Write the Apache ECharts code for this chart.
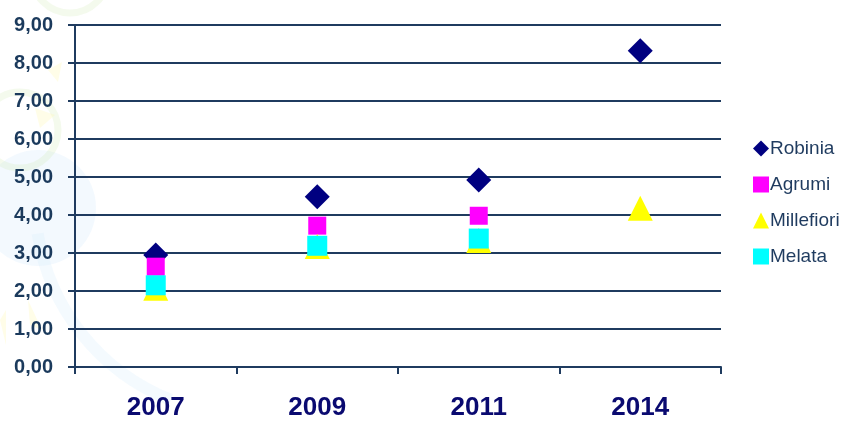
<!DOCTYPE html>
<html>
<head>
<meta charset="utf-8">
<script src="https://cdn.jsdelivr.net/npm/echarts@6/dist/echarts.min.js"></script>
<style>
html,body{margin:0;padding:0;background:#fff;}
#c{width:850px;height:421px;}
</style>
</head>
<body>
<div id="c"></div>
<script>
var categories = ['2007', '2009', '2011', '2014'];
var robinia = [2.95, 4.48, 4.92, 8.32];
var agrumi = [2.64, 3.72, 3.98, null];
var millefiori = [2.07, 3.17, 3.33, 4.18];
var melata = [2.15, 3.19, 3.38, null];
var yTicks = [0, 1, 2, 3, 4, 5, 6, 7, 8, 9];

var chart = echarts.init(document.getElementById('c'));
var axisColor = '#1f3b5f';
var font = 'Liberation Sans, Arial, sans-serif';
chart.setOption({
  backgroundColor: '#ffffff',
  animation: false,
  graphic: [
    {type: 'circle', z: -10, silent: true, shape: {cx: 38, cy: 208, r: 58}, style: {fill: 'rgba(215,236,252,0.3)'}},
    {type: 'circle', z: -10, silent: true, shape: {cx: 20, cy: 130, r: 38}, style: {fill: 'none', stroke: 'rgba(205,232,175,0.22)', lineWidth: 7}},
    {type: 'circle', z: -10, silent: true, shape: {cx: 70, cy: -25, r: 38}, style: {fill: 'none', stroke: 'rgba(205,232,175,0.22)', lineWidth: 7}},
    {type: 'arc', z: -10, silent: true, shape: {cx: 250, cy: 200, r: 215, startAngle: Math.PI * 0.62, endAngle: Math.PI * 0.95}, style: {fill: 'none', stroke: 'rgba(220,238,252,0.3)', lineWidth: 12}},
    {type: 'polygon', z: -10, silent: true, shape: {points: [[48, 70], [62, 62], [58, 82]]}, style: {fill: 'rgba(255,250,180,0.3)'}},
    {type: 'polygon', z: -10, silent: true, shape: {points: [[35, 108], [55, 115], [40, 128]]}, style: {fill: 'rgba(255,250,180,0.3)'}},
    {type: 'polygon', z: -10, silent: true, shape: {points: [[28, 300], [42, 330], [30, 325]]}, style: {fill: 'rgba(255,250,180,0.3)'}},
    {type: 'polygon', z: -10, silent: true, shape: {points: [[0, 320], [6, 310], [6, 345]]}, style: {fill: 'rgba(255,250,180,0.3)'}}
  ],
  grid: {left: 75, right: 129, top: 25, bottom: 51},
  legend: {
    orient: 'vertical',
    left: 748,
    top: 134,
    itemGap: 17,
    itemWidth: 16,
    itemHeight: 16,
    textStyle: {fontFamily: font, fontSize: 19, color: '#1f3b5f', padding: [0, 0, 0, -4]},
    data: ['Robinia', 'Agrumi', 'Millefiori', 'Melata']
  },
  xAxis: {
    type: 'category',
    data: categories,
    boundaryGap: true,
    axisLine: {show: true, lineStyle: {color: axisColor, width: 2}},
    axisTick: {show: true, length: 7, lineStyle: {color: axisColor, width: 2}},
    axisLabel: {margin: 28, fontFamily: font, fontSize: 26, fontWeight: 'bold', color: '#0a0a70'}
  },
  yAxis: {
    type: 'value',
    min: yTicks[0],
    max: yTicks[yTicks.length - 1],
    interval: 1,
    axisLine: {show: true, lineStyle: {color: axisColor, width: 2}},
    axisTick: {show: true, length: 7, lineStyle: {color: axisColor, width: 2}},
    splitLine: {show: true, lineStyle: {color: axisColor, width: 2}},
    axisLabel: {
      margin: 22,
      fontFamily: font, fontSize: 20, fontWeight: 'bold', color: '#1b3a5c',
      formatter: function (v) { return v.toFixed(2).replace('.', ','); }
    }
  },
  series: [
    {name: 'Robinia', type: 'scatter', data: robinia, symbol: 'diamond', symbolSize: [25, 25], itemStyle: {color: '#000080', opacity: 1}},
    {name: 'Agrumi', type: 'scatter', data: agrumi, symbol: 'rect', symbolSize: 18, itemStyle: {color: '#ff00ff', opacity: 1}},
    {name: 'Millefiori', type: 'scatter', data: millefiori, symbol: 'triangle', symbolSize: [25, 25], itemStyle: {color: '#ffff00', opacity: 1}},
    {name: 'Melata', type: 'scatter', data: melata, symbol: 'rect', symbolSize: 20, itemStyle: {color: '#00ffff', opacity: 1}}
  ]
});
</script>
</body>
</html>
